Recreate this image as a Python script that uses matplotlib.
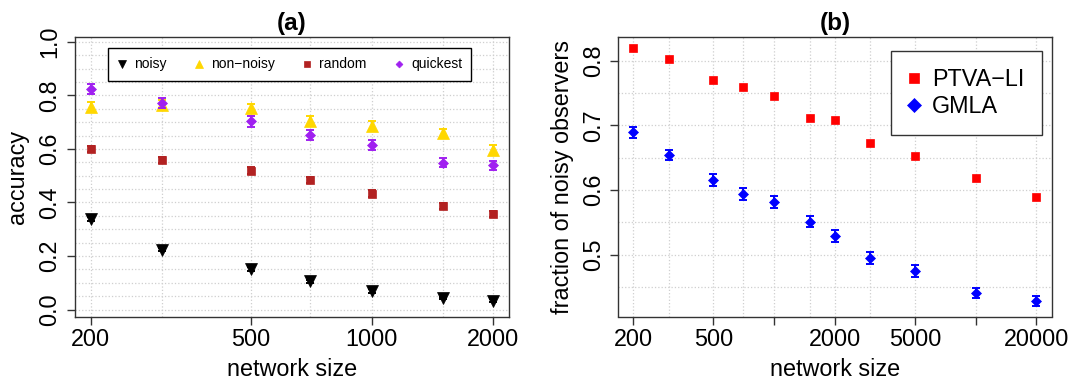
import matplotlib
matplotlib.use("Agg")
import matplotlib.pyplot as plt
from matplotlib.ticker import FixedLocator, NullFormatter, MultipleLocator

plt.rcParams['font.family'] = ['Liberation Sans', 'DejaVu Sans']

# panel (a) data
sizes_a = [200, 300, 500, 700, 1000, 1500, 2000]
noisy = [0.339, 0.224, 0.151, 0.106, 0.069, 0.043, 0.033]
non_noisy = [0.756, 0.765, 0.751, 0.705, 0.686, 0.659, 0.597]
random_obs = [0.599, 0.559, 0.519, 0.484, 0.433, 0.388, 0.358]
quickest = [0.824, 0.772, 0.703, 0.653, 0.615, 0.549, 0.539]
err_noisy = [0.008, 0.007, 0.007, 0.006, 0.006, 0.005, 0.005]
err_non_noisy = [0.02, 0.018, 0.018, 0.018, 0.017, 0.017, 0.016]
err_random = [0.012, 0.012, 0.012, 0.012, 0.012, 0.011, 0.011]
err_quickest = [0.02, 0.02, 0.02, 0.019, 0.018, 0.018, 0.017]

# panel (b) data
sizes_b = [200, 300, 500, 700, 1000, 1500, 2000, 3000, 5000, 10000, 20000]
ptva = [0.819, 0.803, 0.771, 0.759, 0.746, 0.712, 0.709, 0.673, 0.652, 0.618, 0.589]
gmla = [0.689, 0.654, 0.615, 0.594, 0.581, 0.551, 0.529, 0.495, 0.475, 0.440, 0.428]
err_gmla = [0.008, 0.008, 0.009, 0.009, 0.009, 0.009, 0.009, 0.009, 0.009, 0.008, 0.008]

FS = 16.8
W, H = 1085, 381

fig = plt.figure(figsize=(10.85, 3.81), dpi=100)
ax1 = fig.add_axes([74.7 / W, 1 - 316.5 / H, (509 - 74.7) / W, (316.5 - 37) / H])
ax2 = fig.add_axes([618 / W, 1 - 316.5 / H, (1052 - 618) / W, (316.5 - 37) / H])


def style_axes(ax):
    ax.set_xscale('log')
    ax.set_axisbelow(True)
    ax.grid(True, which='both', ls=':', color='#cfcfcf', lw=0.9)
    ax.tick_params(which='major', length=5.5, width=1, labelsize=FS, color='#333333')
    ax.tick_params(axis='x', which='major', pad=3)
    ax.tick_params(axis='y', which='major', pad=4)
    ax.tick_params(which='minor', length=0)
    ax.xaxis.set_minor_formatter(NullFormatter())
    for s in ax.spines.values():
        s.set_color('#333333')
        s.set_linewidth(1.0)


# (a)
series_a = [
    (noisy, err_noisy, 'v', 'black', 8.0, 'noisy'),
    (non_noisy, err_non_noisy, '^', '#FFD700', 8.0, 'non\u2212noisy'),
    (random_obs, err_random, 's', '#B22222', 5.6, 'random'),
    (quickest, err_quickest, 'D', '#A020F0', 5.0, 'quickest'),
]
for vals, errs, mk, col, ms, lab in series_a:
    ax1.errorbar(sizes_a, vals, yerr=errs, fmt='none', ecolor=col, elinewidth=1.4,
                 capsize=2.6, capthick=1.4)
    ax1.plot(sizes_a, vals, ls='none', marker=mk, color=col, ms=ms, mew=0.5, label=lab)

style_axes(ax1)
ax1.set_xlim(182.5, 2193)
ax1.set_ylim(-0.026, 1.018)
ax1.set_xticks([200, 500, 1000, 2000], ['200', '500', '1000', '2000'])
ax1.xaxis.set_minor_locator(FixedLocator(sizes_a))
ax1.set_yticks([0.0, 0.2, 0.4, 0.6, 0.8, 1.0])
ax1.yaxis.set_minor_locator(MultipleLocator(0.05))
for t in ax1.get_yticklabels():
    t.set_rotation(90)
    t.set_va('center')
ax1.set_title('(a)', fontsize=17.5, fontweight='bold', pad=4.7)
ax1.set_xlabel('network size', fontsize=FS, labelpad=4.5)
ax1.set_ylabel('accuracy', fontsize=FS)
ax1.yaxis.set_label_coords(-0.106, 0.5)
leg1 = ax1.legend(loc='upper left', bbox_to_anchor=(0.076, 0.9605), ncol=4,
                  fontsize=10, frameon=True, fancybox=False, framealpha=1,
                  edgecolor='black', borderaxespad=0, borderpad=0.68,
                  handlelength=0.7, handletextpad=0.5, columnspacing=2.0,
                  markerscale=0.7)
leg1.get_frame().set_linewidth(1.0)

# (b)
ax2.plot(sizes_b, ptva, ls='none', marker='s', color='#FF0000', ms=6.0, mew=0.5,
         label='PTVA\u2212LI')
ax2.errorbar(sizes_b, gmla, yerr=err_gmla, fmt='none', ecolor='#0000FF',
             elinewidth=1.4, capsize=2.6, capthick=1.4)
ax2.plot(sizes_b, gmla, ls='none', marker='D', color='#0000FF', ms=5.6, mew=0.5,
         label='GMLA')

style_axes(ax2)
ax2.set_xlim(168, 23930)
ax2.set_ylim(0.4041, 0.8368)
ax2.set_xticks([200, 500, 1000, 2000, 5000, 10000, 20000],
               ['200', '500', '', '2000', '5000', '', '20000'])
ax2.xaxis.set_minor_locator(FixedLocator(sizes_b))
ax2.set_yticks([0.5, 0.6, 0.7, 0.8])
ax2.yaxis.set_minor_locator(MultipleLocator(0.05))
for t in ax2.get_yticklabels():
    t.set_rotation(90)
    t.set_va('center')
ax2.set_title('(b)', fontsize=17.5, fontweight='bold', pad=4.7)
ax2.set_xlabel('network size', fontsize=FS, labelpad=4.5)
ax2.set_ylabel('fraction of noisy observers', fontsize=FS)
ax2.yaxis.set_label_coords(-0.102, 0.5)
leg2 = ax2.legend(loc='upper right', bbox_to_anchor=(0.9763, 0.9508),
                  fontsize=FS, frameon=True, fancybox=False, framealpha=1,
                  edgecolor='#333333', borderaxespad=0, borderpad=0.73,
                  handlelength=0.48, handletextpad=0.55, labelspacing=0.18,
                  markerscale=1.22)
leg2.get_frame().set_linewidth(1.0)

fig.savefig('out.png', dpi=100)
